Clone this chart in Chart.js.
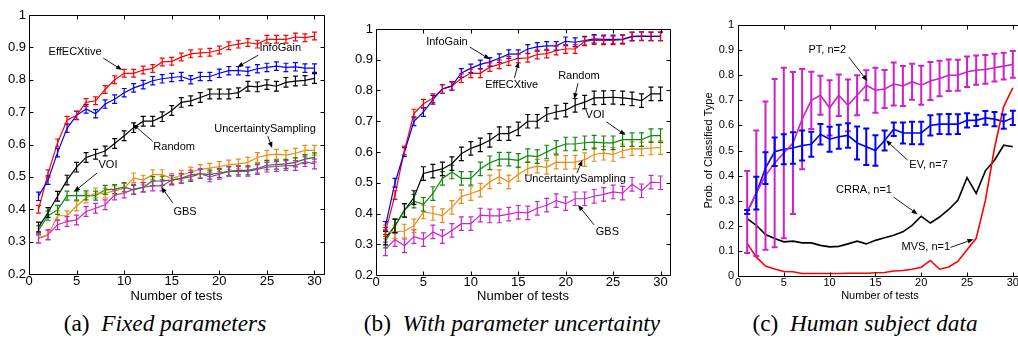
<!DOCTYPE html>
<html>
<head>
<meta charset="utf-8">
<script src="https://cdn.jsdelivr.net/npm/chart.js@4.4.1/dist/chart.umd.min.js"></script>
<style>
  body { margin: 0; background: #fff; width: 1018px; height: 341px; overflow: hidden; position: relative; }
  canvas { position: absolute; top: 0; }
  .cap { position: absolute; top: 312px; width: 400px; text-align: center; color: #000; white-space: nowrap;
         font: 23.3px/23px "Liberation Serif", "Times New Roman", serif; }
</style>
</head>
<body>
<canvas id="chartA" width="340" height="305" style="left:0"></canvas>
<canvas id="chartB" width="340" height="305" style="left:340px"></canvas>
<canvas id="chartC" width="360" height="305" style="left:680px"></canvas>
<div class="cap" style="left:-35px">(a)&nbsp; <i>Fixed parameters</i></div>
<div class="cap" style="left:312px">(b)&nbsp; <i>With parameter uncertainty</i></div>
<div class="cap" style="left:665px">(c)&nbsp; <i>Human subject data</i></div>
<script>
const tests = [1, 2, 3, 4, 5, 6, 7, 8, 9, 10, 11, 12, 13, 14, 15, 16, 17, 18, 19, 20, 21, 22, 23, 24, 25, 26, 27, 28, 29, 30];
const xTicks = [0, 5, 10, 15, 20, 25, 30];
const yTicksAB = [0.2, 0.3, 0.4, 0.5, 0.6, 0.7, 0.8, 0.9, 1];
const yTicksC = [0, 0.1, 0.2, 0.3, 0.4, 0.5, 0.6, 0.7, 0.8, 0.9, 1];

// (a) fixed parameters
const aEffECXtive = [0.40, 0.51, 0.605, 0.675, 0.69, 0.73, 0.735, 0.77, 0.80, 0.82, 0.82, 0.83, 0.835, 0.855, 0.857, 0.87, 0.88, 0.883, 0.885, 0.892, 0.905, 0.91, 0.915, 0.91, 0.925, 0.925, 0.925, 0.932, 0.93, 0.935];
const aInfoGain = [0.44, 0.49, 0.575, 0.65, 0.69, 0.71, 0.695, 0.725, 0.74, 0.76, 0.775, 0.785, 0.797, 0.803, 0.807, 0.81, 0.80, 0.81, 0.81, 0.82, 0.828, 0.828, 0.826, 0.834, 0.838, 0.842, 0.838, 0.84, 0.836, 0.836];
const aRandom = [0.345, 0.39, 0.44, 0.49, 0.53, 0.56, 0.57, 0.58, 0.603, 0.627, 0.652, 0.672, 0.672, 0.686, 0.705, 0.73, 0.735, 0.745, 0.756, 0.756, 0.756, 0.76, 0.78, 0.778, 0.785, 0.78, 0.792, 0.796, 0.798, 0.804];
const aUncertainty = [0.31, 0.32, 0.38, 0.38, 0.41, 0.435, 0.45, 0.45, 0.457, 0.465, 0.497, 0.49, 0.507, 0.507, 0.495, 0.505, 0.515, 0.523, 0.527, 0.532, 0.537, 0.54, 0.545, 0.56, 0.567, 0.57, 0.567, 0.573, 0.582, 0.582];
const aVOI = [0.335, 0.38, 0.398, 0.442, 0.442, 0.443, 0.442, 0.46, 0.462, 0.468, 0.46, 0.468, 0.487, 0.488, 0.49, 0.495, 0.50, 0.51, 0.507, 0.512, 0.517, 0.52, 0.52, 0.526, 0.536, 0.538, 0.54, 0.545, 0.555, 0.56];
const aGBS = [0.311, 0.321, 0.352, 0.362, 0.367, 0.393, 0.403, 0.414, 0.444, 0.45, 0.462, 0.468, 0.472, 0.472, 0.49, 0.496, 0.506, 0.51, 0.50, 0.508, 0.517, 0.517, 0.517, 0.523, 0.53, 0.532, 0.535, 0.535, 0.547, 0.54];
const aErrEffECXtive = 0.012, aErrInfoGain = 0.013, aErrRandom = 0.015, aErrUncertainty = 0.015, aErrVOI = 0.014, aErrGBS = 0.015;

// (b) with parameter uncertainty
const bInfoGain = [0.36, 0.50, 0.60, 0.70, 0.73, 0.77, 0.805, 0.815, 0.857, 0.872, 0.885, 0.893, 0.905, 0.918, 0.918, 0.935, 0.942, 0.945, 0.945, 0.96, 0.957, 0.962, 0.968, 0.966, 0.966, 0.967, 0.976, 0.977, 0.976, 0.976];
const bEffECXtive = [0.34, 0.46, 0.605, 0.725, 0.757, 0.775, 0.805, 0.814, 0.84, 0.856, 0.856, 0.876, 0.885, 0.896, 0.904, 0.906, 0.917, 0.92, 0.93, 0.935, 0.935, 0.96, 0.964, 0.963, 0.963, 0.965, 0.975, 0.976, 0.976, 0.976];
const bRandom = [0.32, 0.36, 0.41, 0.452, 0.53, 0.538, 0.545, 0.562, 0.594, 0.612, 0.623, 0.638, 0.66, 0.66, 0.675, 0.70, 0.70, 0.722, 0.73, 0.736, 0.752, 0.762, 0.776, 0.777, 0.778, 0.776, 0.773, 0.767, 0.789, 0.789];
const bVOI = [0.31, 0.36, 0.41, 0.44, 0.43, 0.465, 0.514, 0.535, 0.514, 0.514, 0.545, 0.565, 0.577, 0.577, 0.573, 0.588, 0.585, 0.60, 0.615, 0.626, 0.626, 0.63, 0.632, 0.63, 0.63, 0.64, 0.64, 0.64, 0.653, 0.653];
const bUncertainty = [0.34, 0.34, 0.343, 0.36, 0.405, 0.40, 0.393, 0.42, 0.455, 0.465, 0.476, 0.503, 0.52, 0.503, 0.527, 0.546, 0.554, 0.55, 0.567, 0.566, 0.567, 0.575, 0.592, 0.596, 0.592, 0.604, 0.611, 0.61, 0.613, 0.614];
const bGBS = [0.285, 0.315, 0.295, 0.325, 0.315, 0.34, 0.325, 0.345, 0.367, 0.367, 0.395, 0.392, 0.392, 0.398, 0.404, 0.402, 0.417, 0.427, 0.442, 0.432, 0.448, 0.448, 0.456, 0.462, 0.47, 0.466, 0.495, 0.474, 0.502, 0.50];
const bErrInfoGain = 0.014, bErrEffECXtive = 0.014, bErrRandom = 0.022, bErrVOI = 0.022, bErrUncertainty = 0.022, bErrGBS = 0.022;

// (c) human subject data
const cPT = [0.255, 0.33, 0.40, 0.45, 0.49, 0.53, 0.625, 0.70, 0.72, 0.67, 0.72, 0.68, 0.72, 0.76, 0.74, 0.745, 0.765, 0.757, 0.774, 0.76, 0.777, 0.787, 0.80, 0.80, 0.814, 0.82, 0.823, 0.83, 0.836, 0.843];
const cPTErr = [0.163, 0.25, 0.295, 0.335, 0.34, 0.283, 0.20, 0.114, 0.078, 0.11, 0.083, 0.103, 0.08, 0.06, 0.09, 0.076, 0.086, 0.08, 0.072, 0.078, 0.076, 0.071, 0.063, 0.062, 0.061, 0.058, 0.057, 0.055, 0.053, 0.053];
const cEV = [0.255, 0.33, 0.43, 0.495, 0.505, 0.51, 0.52, 0.525, 0.565, 0.545, 0.555, 0.56, 0.53, 0.515, 0.50, 0.54, 0.585, 0.57, 0.57, 0.57, 0.60, 0.605, 0.605, 0.605, 0.62, 0.62, 0.63, 0.625, 0.615, 0.63];
const cEVErr = [0.008, 0.065, 0.063, 0.057, 0.06, 0.063, 0.06, 0.05, 0.041, 0.05, 0.048, 0.049, 0.066, 0.073, 0.061, 0.04, 0.027, 0.042, 0.045, 0.045, 0.04, 0.039, 0.04, 0.039, 0.028, 0.022, 0.027, 0.028, 0.028, 0.028];
const cCRRA = [0.229, 0.202, 0.165, 0.149, 0.136, 0.139, 0.132, 0.132, 0.122, 0.116, 0.118, 0.128, 0.139, 0.128, 0.142, 0.152, 0.162, 0.176, 0.202, 0.238, 0.211, 0.235, 0.265, 0.302, 0.392, 0.329, 0.419, 0.461, 0.521, 0.515];
const cMVS = [0.13, 0.075, 0.04, 0.028, 0.018, 0.017, 0.01, 0.01, 0.01, 0.01, 0.01, 0.011, 0.011, 0.011, 0.013, 0.014, 0.02, 0.022, 0.027, 0.035, 0.062, 0.027, 0.036, 0.058, 0.105, 0.15, 0.30, 0.51, 0.675, 0.75];

const RED = '#ff0000', BLUE = '#0000ff', BLACK = '#000000', GREEN = '#0a8a0a', ORANGE = '#ee8a12', MAGENTA = '#cc22cc';
const SANS = '"Liberation Sans", Arial, sans-serif';

Chart.defaults.color = '#000';
Chart.defaults.font.family = SANS;

const pts = vals => tests.map((t, i) => ({ x: t, y: vals[i] }));

function arrow(ctx, x0, y0, x1, y1) {
  const a = Math.atan2(y1 - y0, x1 - x0), L = 6, W = 2.4;
  ctx.beginPath();
  ctx.moveTo(x0, y0);
  ctx.lineTo(x1 - L * Math.cos(a), y1 - L * Math.sin(a));
  ctx.stroke();
  ctx.beginPath();
  ctx.moveTo(x1, y1);
  ctx.lineTo(x1 - L * Math.cos(a) + W * Math.sin(a), y1 - L * Math.sin(a) - W * Math.cos(a));
  ctx.lineTo(x1 - L * Math.cos(a) - W * Math.sin(a), y1 - L * Math.sin(a) + W * Math.cos(a));
  ctx.closePath();
  ctx.fill();
}

// error bars, box frame with inward ticks, text labels with arrows
const extras = {
  id: 'extras',
  afterDatasetsDraw(chart, args, opts) {
    const { ctx, scales: { x, y } } = chart;
    ctx.save();
    chart.data.datasets.forEach(ds => {
      if (ds.err == null) return;
      ctx.strokeStyle = ds.borderColor;
      ctx.lineWidth = opts.errWidth;
      ds.data.forEach((p, i) => {
        const e = Array.isArray(ds.err) ? ds.err[i] : ds.err;
        const px = x.getPixelForValue(p.x);
        const y0 = y.getPixelForValue(p.y - e), y1 = y.getPixelForValue(p.y + e);
        ctx.beginPath();
        ctx.moveTo(px, y0); ctx.lineTo(px, y1);
        ctx.moveTo(px - opts.cap, y0); ctx.lineTo(px + opts.cap, y0);
        ctx.moveTo(px - opts.cap, y1); ctx.lineTo(px + opts.cap, y1);
        ctx.stroke();
      });
    });
    ctx.restore();
  },
  afterDraw(chart, args, opts) {
    const { ctx, chartArea: a, scales: { x, y } } = chart;
    ctx.save();
    ctx.strokeStyle = '#000';
    ctx.lineWidth = 1;
    const l = Math.round(a.left) + 0.5, r = Math.round(a.right) + 0.5;
    const t = Math.round(a.top) + 0.5, b = Math.round(a.bottom) + 0.5;
    ctx.beginPath();
    ctx.moveTo(l, t); ctx.lineTo(r, t); ctx.lineTo(r, b); ctx.lineTo(l, b); ctx.closePath();
    const tl = 4;
    x.ticks.forEach(k => {
      const px = Math.round(x.getPixelForValue(k.value)) + 0.5;
      ctx.moveTo(px, b); ctx.lineTo(px, b - tl);
      ctx.moveTo(px, t); ctx.lineTo(px, t + tl);
    });
    y.ticks.forEach(k => {
      const py = Math.round(y.getPixelForValue(k.value)) + 0.5;
      ctx.moveTo(l, py); ctx.lineTo(l + tl, py);
      ctx.moveTo(r, py); ctx.lineTo(r - tl, py);
    });
    ctx.stroke();

    ctx.fillStyle = '#000';
    ctx.lineWidth = 0.9;
    ctx.font = '11px ' + SANS;
    ctx.textAlign = 'center';
    ctx.textBaseline = 'middle';
    opts.notes.forEach(n => {
      ctx.fillText(n.text, x.getPixelForValue(n.at[0]), y.getPixelForValue(n.at[1]));
      arrow(ctx, x.getPixelForValue(n.from[0]), y.getPixelForValue(n.from[1]),
        x.getPixelForValue(n.to[0]), y.getPixelForValue(n.to[1]));
    });
    ctx.restore();
  }
};

function makeChart(id, o) {
  return new Chart(document.getElementById(id), {
    type: 'line',
    data: {
      datasets: o.series.map(s => ({
        label: s.label,
        data: pts(s.data),
        err: s.err,
        borderColor: s.color,
        backgroundColor: s.color,
        borderWidth: o.lineWidth,
        pointRadius: 0,
        tension: 0,
        fill: false
      }))
    },
    options: {
      responsive: false,
      animation: false,
      devicePixelRatio: 1,
      layout: { autoPadding: false, padding: o.padding },
      scales: {
        x: {
          type: 'linear', min: 0, max: 31,
          afterBuildTicks: s => { s.ticks = xTicks.map(v => ({ value: v })); },
          afterFit: s => { s.height = o.xh; },
          grid: { display: false, drawTicks: false },
          border: { display: false },
          ticks: { padding: o.xPad, maxRotation: 0, autoSkip: false, font: { size: o.font }, callback: v => String(v) },
          title: { display: true, text: 'Number of tests', font: { size: o.font }, padding: { top: 0, bottom: o.titleBottom } }
        },
        y: {
          type: 'linear', min: o.yTicks[0], max: o.yTicks[o.yTicks.length - 1],
          afterBuildTicks: s => { s.ticks = o.yTicks.map(v => ({ value: v })); },
          afterFit: s => { s.width = o.yw; },
          grid: { display: false, drawTicks: false },
          border: { display: false },
          ticks: { padding: o.yPad, font: { size: o.font }, callback: v => String(v) },
          title: o.yTitle ? { display: true, text: o.yTitle, font: { size: o.font }, padding: { top: o.yTitlePad, bottom: 0 } } : { display: false }
        }
      },
      plugins: {
        legend: { display: false },
        tooltip: { enabled: false },
        extras: { notes: o.notes, cap: o.cap, errWidth: o.errWidth }
      }
    },
    plugins: [extras]
  });
}

makeChart('chartA', {
  padding: { left: 0, right: 16, top: 15, bottom: 0 },
  xh: 31, yw: 29, xPad: 0, yPad: 3, titleBottom: 1, font: 13,
  yTicks: yTicksAB, lineWidth: 1.2, errWidth: 1.2, cap: 2.5,
  series: [
    { label: 'UncertaintySampling', data: aUncertainty, err: aErrUncertainty, color: ORANGE },
    { label: 'VOI', data: aVOI, err: aErrVOI, color: GREEN },
    { label: 'GBS', data: aGBS, err: aErrGBS, color: MAGENTA },
    { label: 'Random', data: aRandom, err: aErrRandom, color: BLACK },
    { label: 'InfoGain', data: aInfoGain, err: aErrInfoGain, color: BLUE },
    { label: 'EffECXtive', data: aEffECXtive, err: aErrEffECXtive, color: RED }
  ],
  notes: [
    { text: 'EffECXtive', at: [4.84, 0.885], from: [7.8, 0.867], to: [9.78, 0.83] },
    { text: 'InfoGain', at: [26.4, 0.897], from: [24.1, 0.876], to: [21.9, 0.839] },
    { text: 'Random', at: [15.25, 0.592], from: [13.0, 0.61], to: [10.9, 0.663] },
    { text: 'UncertaintySampling', at: [24.8, 0.648], from: [25.1, 0.626], to: [25.55, 0.589] },
    { text: 'VOI', at: [8.3, 0.537], from: [7.15, 0.512], to: [4.73, 0.454] },
    { text: 'GBS', at: [16.4, 0.392], from: [15.1, 0.42], to: [13.9, 0.469] }
  ]
});

makeChart('chartB', {
  padding: { left: 0, right: 10, top: 29, bottom: 0 },
  xh: 30, yw: 36, xPad: 0, yPad: 3, titleBottom: 0.5, font: 13,
  yTicks: yTicksAB, lineWidth: 1.2, errWidth: 1.2, cap: 2.5,
  series: [
    { label: 'GBS', data: bGBS, err: bErrGBS, color: MAGENTA },
    { label: 'UncertaintySampling', data: bUncertainty, err: bErrUncertainty, color: ORANGE },
    { label: 'VOI', data: bVOI, err: bErrVOI, color: GREEN },
    { label: 'Random', data: bRandom, err: bErrRandom, color: BLACK },
    { label: 'InfoGain', data: bInfoGain, err: bErrInfoGain, color: BLUE },
    { label: 'EffECXtive', data: bEffECXtive, err: bErrEffECXtive, color: RED }
  ],
  notes: [
    { text: 'InfoGain', at: [7.48, 0.959], from: [9.9, 0.941], to: [12.0, 0.902] },
    { text: 'EffECXtive', at: [14.3, 0.818], from: [14.6, 0.841], to: [15.04, 0.893] },
    { text: 'Random', at: [21.4, 0.847], from: [21.3, 0.824], to: [20.9, 0.772] },
    { text: 'VOI', at: [23.1, 0.72], from: [24.3, 0.698], to: [26.3, 0.655] },
    { text: 'UncertaintySampling', at: [21.0, 0.512], from: [21.2, 0.532], to: [21.75, 0.574] },
    { text: 'GBS', at: [24.4, 0.34], from: [23.0, 0.363], to: [21.3, 0.428] }
  ]
});

makeChart('chartC', {
  padding: { left: 0, right: 18, top: 25, bottom: 0 },
  xh: 29, yw: 58, xPad: 0, yPad: 4, titleBottom: 2, font: 11,
  yTicks: yTicksC, yTitle: 'Prob. of Classified Type', yTitlePad: 22,
  lineWidth: 1.6, errWidth: 2, cap: 3,
  series: [
    { label: 'MVS, n=1', data: cMVS, color: RED },
    { label: 'CRRA, n=1', data: cCRRA, color: BLACK },
    { label: 'PT, n=2', data: cPT, err: cPTErr, color: MAGENTA },
    { label: 'EV, n=7', data: cEV, err: cEVErr, color: BLUE }
  ],
  notes: [
    { text: 'PT, n=2', at: [9.75, 0.90], from: [12.1, 0.872], to: [14.1, 0.777] },
    { text: 'EV, n=7', at: [20.8, 0.442], from: [18.5, 0.462], to: [16.15, 0.541] },
    { text: 'CRRA, n=1', at: [13.75, 0.342], from: [17.0, 0.314], to: [19.6, 0.246] },
    { text: 'MVS, n=1', at: [20.5, 0.114], from: [23.2, 0.114], to: [25.7, 0.146] }
  ]
});
</script>
</body>
</html>
